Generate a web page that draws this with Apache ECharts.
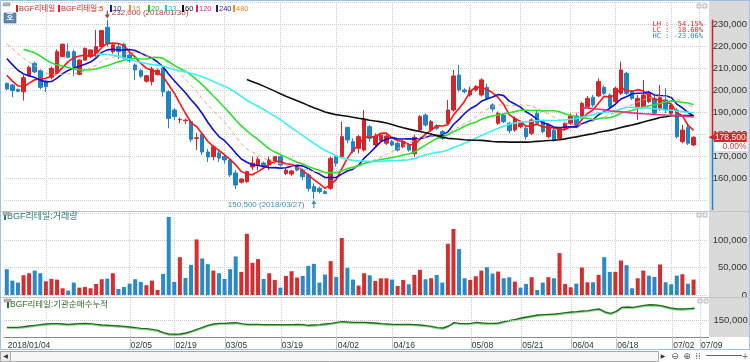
<!DOCTYPE html>
<html><head><meta charset="utf-8">
<script src="https://cdn.jsdelivr.net/npm/echarts@6/dist/echarts.min.js"></script>
<style>html,body{margin:0;padding:0;background:#fff;}#c{width:750px;height:362px;}</style>
</head><body><div id="c"></div>
<script>
// ---------- data ----------
const dates = ['01/04','01/05','01/08','01/09','01/10','01/11','01/12','01/15','01/16','01/17','01/18','01/19','01/22','01/23','01/24','01/25','01/26','01/29','01/30','01/31',
'02/01','02/02','02/05','02/06','02/07','02/08','02/09','02/12','02/13','02/14','02/19','02/20','02/21','02/22','02/23','02/26','02/27','02/28',
'03/02','03/05','03/06','03/07','03/08','03/09','03/12','03/13','03/14','03/15','03/16','03/19','03/20','03/21','03/22','03/23','03/26','03/27','03/28','03/29','03/30',
'04/02','04/03','04/04','04/05','04/06','04/09','04/10','04/11','04/12','04/13','04/16','04/17','04/18','04/19','04/20','04/23','04/24','04/25','04/26','04/27','04/30',
'05/02','05/03','05/04','05/08','05/09','05/10','05/11','05/14','05/15','05/16','05/17','05/18','05/21','05/23','05/24','05/25','05/28','05/29','05/30','05/31',
'06/01','06/04','06/05','06/07','06/08','06/11','06/12','06/14','06/15','06/18','06/19','06/20','06/21','06/22','06/25','06/26','06/27','06/28','06/29',
'07/02','07/03','07/04','07/05','07/06','07/09','07/10'];

// closes before the visible window (used only by the moving averages)
const preCloses = [224000,226000,230000,236000,238000,235000,232000,228000,225000,222000,219000,216000,213000,210000,208000,202000];

const opens = [203000,202300,200300,199200,206400,212100,208800,204100,205800,207900,
215200,217400,217400,207100,213600,215200,215900,219700,228500,217400,
219700,220800,215900,211400,208800,204000,203800,207000,209900,199200,
190900,186500,186000,185600,178000,180000,171800,169700,171400,169700,
168200,162300,158100,158300,165000,165900,166800,165900,167400,169700,
162100,161800,165200,163600,161400,156100,155300,153800,155300,169700,
169700,183000,176500,173500,172700,183300,175000,177000,175800,176500,
175800,174200,175000,171000,181800,188600,181800,183600,181100,184900,
190900,206800,200000,197700,200000,197700,201200,193200,184900,188600,
184900,181800,183300,182600,180300,189400,185600,178800,181800,178000,
182600,184900,188200,187900,192400,196700,197300,201200,197700,194700,
198500,207600,199200,192400,192400,194700,196200,191500,195500,189400,
190900,176500,183000,175000];
const highs = [203500,202700,200600,206800,211000,212900,209400,204800,210600,218500,
221200,221200,218200,213900,219400,218500,227300,227300,232000,221000,
221200,221500,217400,212100,209500,206800,210500,209800,210600,200000,
191700,187500,187000,186400,180500,180900,173200,175000,172500,170500,
169000,163600,159900,163300,169700,169700,167500,169700,170000,170200,
164400,163600,165600,164400,162100,157600,156100,154500,169700,170500,
185600,183300,178000,179600,190900,184100,180300,180000,179800,177300,
176500,177300,175800,179600,188600,189400,186400,184500,181800,195500,
209100,211400,200800,201500,202300,205300,203000,194000,190200,189400,
185600,188000,185600,183300,187100,190900,186400,184900,182600,183300,
185600,189400,189400,194700,197300,197700,205300,202000,198500,201500,
212900,208300,200000,197700,204600,199200,197700,202300,200800,194000,
191700,184100,184100,179100];
const lows = [200000,196700,199000,195200,206000,207600,200300,199100,204900,207600,
214900,214400,206400,206700,213300,214400,215100,219400,219700,216500,
214100,214000,212500,204500,205500,203300,202000,206500,197000,182600,
186400,184900,184500,176400,172700,170500,167300,168000,167300,166500,
160500,155000,157500,157700,163600,163600,164500,163600,166500,165200,
161300,161000,163000,159100,153800,150500,153000,152700,154600,165200,
169000,175800,171200,171200,172000,176500,174300,176000,175000,174500,
172000,173500,172000,169700,181000,183300,181000,181800,177300,184100,
190200,199200,198500,197000,199200,197000,195500,190200,184100,184900,
180300,181000,182600,177300,179500,184100,180300,178000,176500,177300,
181800,184100,182600,187100,191700,192400,196700,197700,191700,193900,
197700,197700,195500,186400,191700,194000,188600,190500,189400,188600,
178000,175800,175000,174500];
const closes = [200500,199700,199400,205600,210300,208200,201200,201500,209900,217400,
220800,214900,210600,213600,218900,218200,219700,227000,221200,220500,
217400,214400,213300,209100,206300,206500,209500,209000,199200,187100,
187900,186600,186300,177600,178300,171800,169500,174200,169100,168200,
161400,156800,159500,162900,166800,168500,165000,168200,169700,165900,
163600,163200,163600,160600,155300,153800,153800,153000,168900,166700,
178800,177300,172000,178800,186400,178000,179100,179500,179100,175000,
172700,176500,172700,178500,187900,184100,185600,182600,178000,190900,
206400,200000,199200,200000,201500,204600,196200,191400,189400,185600,
181500,187100,184900,178800,186400,184900,181100,184100,177300,182600,
184900,188200,183300,193900,196200,193200,203800,198500,192400,200800,
209100,198500,196200,196200,197700,198500,189400,196500,190900,193200,
178800,181800,175800,178500];

const volumes = [47200,26300,22700,36100,39800,44700,39800,25100,29400,28200,
12300,8000,22700,13500,14700,12300,20200,28800,30000,39800,
11000,14700,20800,28800,23900,17800,26300,9200,38600,142800,
23900,69200,31200,55100,101700,66800,56400,44700,39800,29400,
47200,70500,42300,112100,58800,65600,29400,39800,27600,13500,
34900,43500,31900,34900,53300,57000,22700,37400,61900,33100,
104200,49600,28200,17200,39800,36100,25700,30600,30600,28200,
16500,27600,19600,36800,46000,28800,30600,36800,22700,93700,
120700,83900,30600,27600,34300,44700,50900,39200,42900,30600,
32500,24500,13500,20200,32500,9200,22700,32500,30600,76600,
20200,14100,20800,50200,23300,23300,36800,69200,42300,42300,
63100,54500,12300,30600,44700,35500,33100,55800,23300,19600,
35500,38000,20800,28200];
// 1 = red bar, 0 = blue bar
const volUp = [0,0,0,1,1,0,0,1,1,1, 1,0,0,1,1,1,1,1,0,1, 0,0,0,0,0,1,1,1,0,0,
0,1,0,0,1,0,0,1,0,0, 0,0,1,1,1,1,0,1,1,0, 1,1,1,0,0,0,0,0,1,0,
1,0,0,1,1,0,1,1,1,0, 1,1,0,1,1,0,1,0,0,1, 1,0,0,1,1,1,0,0,1,0,
0,1,0,0,1,0,0,1,0,1, 1,1,0,1,1,0,1,0,0,1, 1,0,0,1,1,0,0,1,0,0, 0,1,0,1];

const instCum = [133400,133400,133400,135000,136700,138300,139900,141500,142300,142300,
141500,140700,141500,142300,143100,142300,140700,139100,138300,137500,
136700,135800,134200,132600,131000,130200,128600,126200,120500,117300,
116500,117300,119700,123700,128600,133400,138300,141500,143100,143100,
143900,144700,142300,140700,140700,140700,139900,139900,139900,139900,
139900,139900,140700,139900,138300,139100,139900,141500,143100,145500,
147200,146300,145500,145500,145500,144700,143900,142300,141500,140700,
140700,140700,140700,139900,139100,137500,135800,132600,131800,136700,
144700,143100,142300,143100,145500,143900,143100,143100,143900,147200,
150400,152800,156000,158500,160900,163300,164100,164900,165700,167300,
169000,170600,171400,173000,173800,176200,177800,170600,167300,172200,
181900,182700,181900,184300,186700,188300,187500,185900,182700,179500,
177800,177800,178700,179500];

const labelDates = ['01/04','02/05','02/19','03/05','03/19','04/02','04/16','05/08','05/21','06/04','06/18','07/02','07/09'];
const gridDates  = ['01/15','02/05','02/19','03/05','03/19','04/02','04/16','05/08','05/21','06/04','06/18','07/02','07/09'];
const maPeriods = [5,10,15,20,33,60,120];
const legendNames = ['BGF리테일','BGF리테일:5','10','15','20','33','60','120','240','480'];
const instMark = 150000;
const changeText = '0.00%';

// ---------- helpers ----------
const fmt = v => String(v).replace(/\B(?=(\d{3})+(?!\d))/g, ',');
const labelIdx = new Set(labelDates.map(d => dates.indexOf(d)));
const gridIdx = new Set(gridDates.map(d => dates.indexOf(d)));
function movingAverage(n){
  const all = preCloses.concat(closes), off = preCloses.length;
  return closes.map((_, i) => {
    const k = i + off; if (k < n - 1) return null;
    let s = 0; for (let j = k - n + 1; j <= k; j++) s += all[j];
    return Math.round(s / n);
  });
}
const RED = '#d2262b', BLUE = '#1f84c6';
const maColors = {5:'#ff1414',10:'#1010d0',15:'#f4a27e',20:'#2ee02e',33:'#3ef0f6',60:'#101010',120:'#ee2f86'};
const FONT = "'Liberation Sans','Noto Sans CJK KR',sans-serif";

const candleData = opens.map((o, i) => [o, closes[i], lows[i], highs[i]]);
const hiVal = Math.max(...highs), loVal = Math.min(...lows);
const hiIdx = highs.indexOf(hiVal), loIdx = lows.indexOf(loVal);
const lastClose = closes[closes.length - 1];

function xAxisCfg(g, showLabels){
  return {
    type:'category', gridIndex:g, data:dates, boundaryGap:true,
    axisLine:{show:showLabels, lineStyle:{color:'#8a8a8a'}},
    axisTick:{show:showLabels, alignWithLabel:true, interval:(i)=>labelIdx.has(i) && i>0, length:13, lineStyle:{color:'#c8c8c8'}},
    axisLabel:{show:showLabels, interval:(i)=>labelIdx.has(i), align:'left', margin:4, fontSize:8.5, fontFamily:FONT, color:'#333',
      formatter:(v,i)=> i===0 ? '2018/'+v : v, padding:[0,0,0,1]},
    splitLine:{show:true, alignWithLabel:true, interval:(i)=>gridIdx.has(i), lineStyle:{color:'#cdcdcd', type:'dotted'}}
  };
}
const yLab = {align:'right', margin:39.5, fontSize:9.5, fontFamily:FONT, color:'#333', formatter:fmt, showMinLabel:false, showMaxLabel:false};
const hidden = {color:'rgba(0,0,0,0)', width:0};

const series = [{
  name:'BGF리테일', type:'candlestick', xAxisIndex:0, yAxisIndex:0, data:candleData, barWidth:4,
  itemStyle:{color:RED, color0:BLUE, borderColor:RED, borderColor0:BLUE, borderColorDoji:RED, borderWidth:1},
  markPoint:{silent:true, animation:false, data:[
    {coord:[dates[hiIdx], hiVal], symbol:'path://M0,10 L-3,5 L-0.7,5 L-0.7,0 L0.7,0 L0.7,5 L3,5 Z', symbolSize:[5,8], symbolOffset:[0,-5],
      itemStyle:{color:'#b03a3a'},
      label:{show:true, position:'right', distance:2, offset:[0,-2], formatter:fmt(hiVal)+' (2018/'+dates[hiIdx]+')', color:'#b03a3a', fontSize:8, fontFamily:FONT}},
    {coord:[dates[loIdx], loVal], symbol:'path://M0,0 L3,5 L0.7,5 L0.7,10 L-0.7,10 L-0.7,5 L-3,5 Z', symbolSize:[5,8], symbolOffset:[0,5],
      itemStyle:{color:'#3a8fc0'},
      label:{show:true, position:'left', distance:7, offset:[0,1], formatter:fmt(loVal)+' (2018/'+dates[loIdx]+')', color:'#3a8fc0', fontSize:8, fontFamily:FONT}}
  ]},
  markLine:{silent:true, animation:false, symbol:['none','none'], lineStyle:hidden, z:10, data:[
    {yAxis:lastClose, lineStyle:hidden, label:{show:true, position:'end', distance:1, formatter:'{t|◀}{b|'+fmt(lastClose)+'}',
      rich:{t:{color:'#cc2a2a', fontSize:7, fontFamily:'DejaVu Sans'}, b:{backgroundColor:'#cc2a2a', color:'#fff', fontSize:8.5, fontFamily:FONT, padding:[1,1,0,1]}}}},
    {yAxis:lastClose, lineStyle:hidden, label:{show:true, position:'end', distance:7, formatter:'{w|'+changeText+'}', padding:[19,0,0,0],
      rich:{w:{backgroundColor:'#fff', color:'#e03030', fontSize:8.5, fontFamily:FONT, width:32, align:'right', padding:[0,1,0,0]}}}}
  ]}
}];
maPeriods.forEach(n => series.push({
  name:'MA'+n, type:'line', xAxisIndex:0, yAxisIndex:0, data:movingAverage(n), symbol:'none', silent:true,
  lineStyle:{color:maColors[n], width:n===15?1:1.6, type:n===15?[4,3]:'solid'}
}));
series.push({
  name:'거래량', type:'bar', xAxisIndex:1, yAxisIndex:1, barWidth:4,
  data:volumes.map((v,i)=>({value:v, itemStyle:{color: volUp[i] ? '#d62e2e' : '#2a8ac8'}}))
});
series.push({
  name:'기관순매수누적', type:'line', xAxisIndex:2, yAxisIndex:2, data:instCum, symbol:'none', silent:true,
  lineStyle:{color:'#1e6e1e', width:1.4, shadowColor:'#8fd68f', shadowOffsetY:1, shadowBlur:0},
  markLine:{silent:true, animation:false, symbol:'none', data:[{yAxis:instMark}],
    lineStyle:{type:'dotted', color:'#c4c4c4', width:1},
    label:{show:true, position:'end', distance:5, formatter:fmt(instMark), color:'#333', fontSize:9.5, fontFamily:FONT}}
});

const option = {
  animation:false, backgroundColor:'#ffffff',
  grid:[
    {left:4, right:41.5, top:2, height:198},
    {left:4, right:41.5, top:213, height:82},
    {left:4, right:41.5, top:298, height:39}
  ],
  xAxis:[xAxisCfg(0,false), xAxisCfg(1,false), xAxisCfg(2,true)],
  yAxis:[
    {type:'value', gridIndex:0, position:'right', min:150000, max:240000, interval:10000, axisLine:{show:false}, axisTick:{show:false},
      splitLine:{lineStyle:{color:'#cdcdcd', type:'dotted'}}, axisLabel:yLab},
    {type:'value', gridIndex:1, position:'right', min:0, max:150000, interval:50000, axisLine:{show:false}, axisTick:{show:false},
      splitLine:{lineStyle:{color:'#cdcdcd', type:'dotted'}}, axisLabel:Object.assign({}, yLab, {showMinLabel:true})},
    {type:'value', gridIndex:2, position:'right', min:110000, max:204500, axisLine:{show:false}, axisTick:{show:false},
      splitLine:{show:false}, axisLabel:{show:false}}
  ],
  series
};

const chart = echarts.init(document.getElementById('c'), null, {renderer:'canvas'});
chart.setOption(option);

// ---------- decorations ----------
const px = (v) => chart.convertToPixel({gridIndex:0}, [dates[0], v])[1];
const yHi = px(hiVal), yLast = px(lastClose);
const legendX = [16,58,110,129,148,165,182,196,216,233];
const legendColors = ['#c82828','#e81c1c','#1818c8','#f08a4a','#22c022','#22c8d8','#111111','#e0207a','#2a1a7a','#f08a20'];
const gfx = [];
gfx.push({type:'rect', z:-10, shape:{x:709, y:0, width:41, height:337}, style:{fill:'#dadada'}});
gfx.push({type:'line', z:5, shape:{x1:0, y1:211.5, x2:750, y2:211.5}, style:{stroke:'#c2c2c2', lineWidth:1}});
gfx.push({type:'line', z:5, shape:{x1:0, y1:297.5, x2:750, y2:297.5}, style:{stroke:'#c2c2c2', lineWidth:1}});
gfx.push({type:'line', z:5, shape:{x1:712.5, y1:yHi, x2:712.5, y2:yLast}, style:{stroke:'#cc2020', lineWidth:1.5}});
gfx.push({type:'line', z:5, shape:{x1:712.5, y1:yLast, x2:712.5, y2:210}, style:{stroke:'#1f84c6', lineWidth:1.5}});
gfx.push({type:'rect', z:20, shape:{x:0.5, y:0.5, width:749, height:349}, style:{fill:null, stroke:'#9cc0e6', lineWidth:1}});
// legend
legendNames.forEach((n,i) => {
  gfx.push({type:'rect', z:10, shape:{x:legendX[i], y:5, width:2, height:7}, style:{fill:legendColors[i]}});
  gfx.push({type:'text', z:10, x:legendX[i]+3, y:8.5, style:{text:n, fill:legendColors[i], font:'7.5px '+FONT, textVerticalAlign:'middle'}});
});
// panel titles
gfx.push({type:'rect', z:10, shape:{x:4, y:213, width:2, height:7}, style:{fill:'#2a7a70'}});
gfx.push({type:'text', z:10, x:7, y:216.5, style:{text:'BGF리테일:거래량', fill:'#2a7a70', font:'9px '+FONT, textVerticalAlign:'middle'}});
gfx.push({type:'rect', z:10, shape:{x:7, y:301, width:2, height:7}, style:{fill:'#2d6b2d'}});
gfx.push({type:'text', z:10, x:10, y:304.5, style:{text:'BGF리테일:기관순매수누적', fill:'#2d6b2d', font:'8.5px '+FONT, textVerticalAlign:'middle'}});
// small panel icons
[[3,3],[3,212],[4,299]].forEach(p => gfx.push({type:'rect', z:10, shape:{x:p[0], y:p[1], width:7, height:3}, style:{fill:'#b4b4b4', stroke:'#8c8c8c', lineWidth:0.5}}));
[[697,4],[697,213],[698,299]].forEach(p => {
  gfx.push({type:'rect', z:10, shape:{x:p[0], y:p[1], width:4, height:4}, style:{fill:'#eee', stroke:'#999', lineWidth:0.6}});
  gfx.push({type:'rect', z:10, shape:{x:p[0]+6, y:p[1], width:4, height:4}, style:{fill:'#eee', stroke:'#999', lineWidth:0.6}});
});
// 호 button
gfx.push({type:'rect', z:10, shape:{x:4, y:13, width:12, height:10}, style:{fill:'#5f86b2', stroke:'#48698f', lineWidth:0.6}});
gfx.push({type:'text', z:11, x:10, y:18, style:{text:'호', fill:'#fff', font:'bold 8px '+FONT, textAlign:'center', textVerticalAlign:'middle'}});
// LH / LC / HC
[['LH :  54.15%','#e02828',24],['LC :  18.60%','#e02828',30],['HC : -23.06%','#2a90c8',35.7]].forEach(r =>
  gfx.push({type:'text', z:10, x:703, y:r[2], style:{text:r[0], fill:r[1], font:'7px DejaVu Sans Mono', textAlign:'right', textVerticalAlign:'middle'}}));
// scrollbar
gfx.push({type:'rect', z:10, shape:{x:0.5, y:351.5, width:658, height:10}, style:{fill:'#f6f6f6', stroke:'#a8a8a8', lineWidth:1}});
gfx.push({type:'rect', z:10, shape:{x:0.5, y:351.5, width:10, height:10}, style:{fill:'#ececec', stroke:'#a8a8a8', lineWidth:1}});
gfx.push({type:'text', z:11, x:5.5, y:356.5, style:{text:'◀', fill:'#333', font:'6px DejaVu Sans', textAlign:'center', textVerticalAlign:'middle'}});
gfx.push({type:'text', z:11, x:663, y:356.5, style:{text:'▶', fill:'#333', font:'6px DejaVu Sans', textAlign:'center', textVerticalAlign:'middle'}});
gfx.push({type:'text', z:11, x:675, y:356.5, style:{text:'⊖', fill:'#555', font:'9px DejaVu Sans', textAlign:'center', textVerticalAlign:'middle'}});
gfx.push({type:'text', z:11, x:687, y:356.5, style:{text:'⊕', fill:'#555', font:'9px DejaVu Sans', textAlign:'center', textVerticalAlign:'middle'}});
gfx.push({type:'text', z:11, x:698, y:356.5, style:{text:'⁞⁞', fill:'#555', font:'8px DejaVu Sans', textAlign:'center', textVerticalAlign:'middle'}});
gfx.push({type:'line', z:11, shape:{x1:706, y1:355.5, x2:742, y2:355.5}, style:{stroke:'#666', lineWidth:1}});
gfx.push({type:'text', z:11, x:745, y:356.5, style:{text:'+', fill:'#555', font:'8px DejaVu Sans', textAlign:'center', textVerticalAlign:'middle'}});
chart.setOption({graphic:{elements:gfx}});
</script></body></html>
